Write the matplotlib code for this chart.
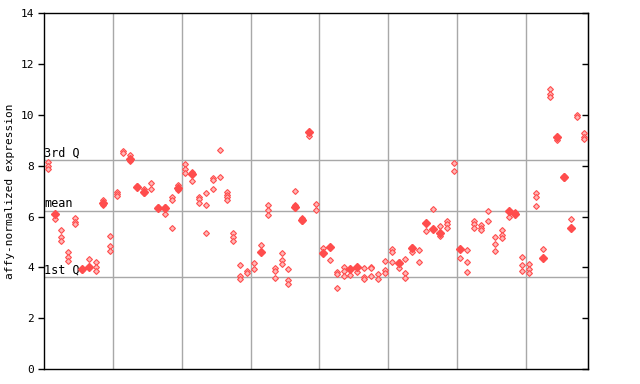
import matplotlib
matplotlib.use("Agg")
import matplotlib.pyplot as plt

# values per sample column
samples = [
    [8.16, 8.0, 7.86], [6.12, 5.89], [5.47, 5.21, 5.05], [4.59, 4.42, 4.25],
    [5.93, 5.8, 5.71], [3.94, 3.9], [4.32, 4.03], [4.2, 4.03, 3.86],
    [6.65, 6.52, 6.46], [5.22, 4.84, 4.65], [6.98, 6.89, 6.82], [8.58, 8.52],
    [8.43, 8.25, 8.2], [7.2, 7.15], [7.07, 6.98, 6.94], [7.34, 7.07],
    [6.39, 6.33], [6.39, 6.29, 6.09], [6.78, 6.65, 5.54], [7.24, 7.14, 7.05],
    [8.06, 7.87, 7.7], [7.74, 7.68, 7.4], [6.78, 6.69, 6.52], [6.92, 6.46, 5.34],
    [7.51, 7.44, 7.07], [8.62, 7.56], [6.98, 6.85, 6.76, 6.65], [5.37, 5.21, 5.05],
    [4.09, 3.66, 3.56], [3.86, 3.77], [4.16, 3.92], [4.88, 4.62],
    [6.46, 6.26, 6.06], [3.99, 3.87, 3.57], [4.55, 4.29, 4.12], [3.92, 3.5, 3.33],
    [7.0, 6.46, 6.37], [5.93, 5.84], [9.34, 9.17], [6.5, 6.26],
    [4.75, 4.58], [4.82, 4.29], [3.83, 3.74, 3.18], [4.0, 3.87, 3.66],
    [3.92, 3.7], [4.03, 3.83], [3.96, 3.64, 3.53], [4.03, 3.96, 3.66],
    [3.74, 3.54], [4.25, 3.9, 3.79], [4.71, 4.59, 4.2], [4.23, 4.16, 3.96],
    [4.32, 3.79, 3.57], [4.79, 4.75, 4.59], [4.68, 4.2], [5.73, 5.43],
    [6.29, 5.52], [5.63, 5.37, 5.25], [5.84, 5.71, 5.56], [8.1, 7.78],
    [4.71, 4.36], [4.68, 4.23, 3.81], [5.84, 5.71, 5.54], [5.67, 5.56, 5.47],
    [6.22, 5.83], [5.18, 4.91, 4.65], [5.47, 5.28, 5.17], [6.23, 5.97],
    [6.19, 6.09], [4.4, 4.08, 3.86], [4.12, 3.92, 3.77], [6.92, 6.76, 6.42],
    [4.71, 4.36], [11.01, 10.81, 10.72], [9.15, 9.02], [7.6, 7.51],
    [5.89, 5.56], [10.0, 9.91], [9.28, 9.15, 9.04],
]

# solid markers: (column, value)
solid_cols = [1, 5, 6, 8, 12, 13, 14, 16, 17, 19, 21, 31, 36, 37, 38, 40, 41,
              44, 45, 51, 53, 55, 56, 57, 60, 67, 68, 72, 74, 75, 76]
solid_vals = [6.12, 3.94, 4.03, 6.52, 8.25, 7.18, 6.98, 6.33, 6.33, 7.14, 7.68,
              4.62, 6.37, 5.88, 9.34, 4.58, 4.82, 3.92, 4.03, 4.16, 4.75, 5.73,
              5.52, 5.37, 4.71, 6.23, 6.12, 4.36, 9.15, 7.55, 5.56]

q_labels = ["3rd Q", "mean", "1st Q"]
q_values = [8.21, 6.22, 3.62]

mono = "DejaVu Sans Mono"
red = "#ff4d4d"

fig = plt.figure(figsize=(6.4, 3.84), dpi=100)
ax = fig.add_axes([0.0692, 0.039, 0.8491, 0.9263])

# grid lines
for gx in [9.5, 19.5, 29.5, 39.5, 49.5, 59.5, 69.5]:
    ax.axvline(gx, color="#a8a8a8", lw=1, zorder=1)
for lab, qv in zip(q_labels, q_values):
    ax.axhline(qv, color="#a8a8a8", lw=1, zorder=1)
    ax.text(-0.5, qv + 0.03, lab, fontsize=8.5, family=mono, va="bottom", ha="left")

for i, vals in enumerate(samples):
    ax.plot([i] * len(vals), vals, linestyle="none", marker="D", ms=3.0,
            markerfacecolor="#ffb8b8", markeredgecolor=red, markeredgewidth=0.8,
            zorder=3)
ax.plot(solid_cols, solid_vals, linestyle="none", marker="D", ms=3.8,
        color=red, zorder=4)

ax.set_xlim(-0.5, 78.5)
ax.set_ylim(0, 14)
ax.set_xticks([])
ax.set_yticks(range(0, 15, 2))
ax.set_yticklabels([str(v) for v in range(0, 15, 2)], family=mono, fontsize=8)
ax.tick_params(axis="y", which="major", direction="out", length=4, width=1, left=True)
ax2 = ax.secondary_yaxis("right")
ax2.set_yticks(range(0, 15, 2))
ax2.tick_params(direction="in", length=4, width=1, labelright=False)
ax.set_ylabel("affy-normalized expression", family=mono, fontsize=8)
for s in ax.spines.values():
    s.set_linewidth(1)

fig.savefig("out.png", dpi=100)
